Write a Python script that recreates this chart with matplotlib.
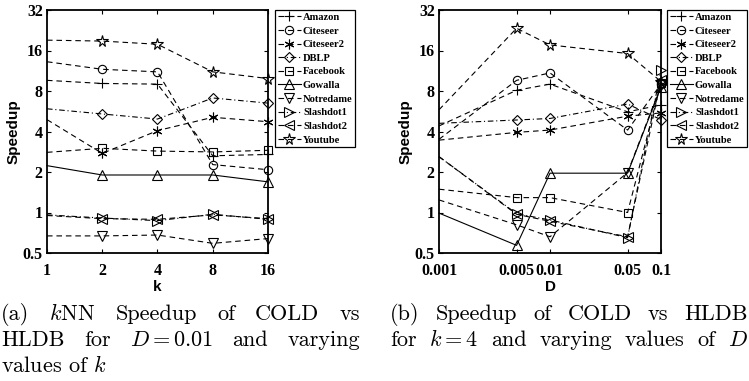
"""
Speedup of COLD vs HLDB: left panel varies k, right panel varies D
"""

import numpy as np
import matplotlib.pyplot as plt

plt.rcParams['mathtext.fontset'] = 'cm'
plt.rcParams['axes.formatter.use_mathtext'] = True

# Data
datasets = ['Amazon', 'Citeseer', 'Citeseer2', 'DBLP', 'Facebook',
            'Gowalla', 'Notredame', 'Slashdot1', 'Slashdot2', 'Youtube']

k_values = [1, 2, 4, 8, 16]
speedup_k = {
    'Amazon':    [9.6, 9.1, 9.0, 2.64, 2.7],
    'Citeseer':  [13.2, 11.6, 11.1, 2.27, 2.08],
    'Citeseer2': [4.9, 2.75, 4.06, 5.1, 4.73],
    'DBLP':      [5.9, 5.4, 4.95, 7.1, 6.5],
    'Facebook':  [2.8, 3.0, 2.86, 2.82, 2.9],
    'Gowalla':   [2.23, 1.9, 1.9, 1.9, 1.69],
    'Notredame': [0.67, 0.67, 0.68, 0.59, 0.64],
    'Slashdot1': [0.96, 0.91, 0.87, 0.97, 0.89],
    'Slashdot2': [0.95, 0.9, 0.89, 0.96, 0.9],
    'Youtube':   [19.1, 18.8, 17.8, 11.1, 9.9],
}

d_values = [0.001, 0.005, 0.01, 0.05, 0.1]
speedup_d = {
    'Amazon':    [4.4, 8.1, 9.0, 5.6, 6.3],
    'Citeseer':  [3.5, 9.6, 10.9, 4.1, 9.0],
    'Citeseer2': [3.45, 3.94, 4.1, 5.2, 5.5],
    'DBLP':      [4.6, 4.87, 5.0, 6.4, 4.9],
    'Facebook':  [1.49, 1.29, 1.29, 1.0, 9.2],
    'Gowalla':   [0.99, 0.57, 1.96, 1.96, 8.6],
    'Notredame': [1.24, 0.81, 0.66, 1.98, 8.8],
    'Slashdot1': [2.6, 0.98, 0.88, 0.65, 11.4],
    'Slashdot2': [2.6, 0.97, 0.86, 0.66, 9.6],
    'Youtube':   [5.8, 23.4, 17.6, 15.2, 9.4],
}

y_ticks = [0.5, 1, 2, 4, 8, 16, 32]
y_tick_labels = ['0.5', '1', '2', '4', '8', '16', '32']
d_tick_labels = ['0.001', '0.005', '0.01', '0.05', '0.1']

# Стиль каждой серии: маркер, тип линии, размер маркера
dash = (5, 3.5)
dashdot = (5, 2.5, 1, 2.5)
asterisk = (6, 2, 0)
styles = {
    'Amazon':    ('+', dash, 7),
    'Citeseer':  ('o', dash, 6),
    'Citeseer2': (asterisk, dash, 7),
    'DBLP':      ('D', dashdot, 5.5),
    'Facebook':  ('s', dash, 5.5),
    'Gowalla':   ('^', None, 6.5),
    'Notredame': ('v', dash, 6.5),
    'Slashdot1': ('>', dashdot, 6.5),
    'Slashdot2': ('<', dash, 6.5),
    'Youtube':   ('*', dash, 8.5),
}

tick_font = dict(family='Liberation Serif', weight='bold', size=11.5)
label_font = dict(family='Liberation Sans', weight='bold', size=11)
legend_font = dict(family='Liberation Serif', weight='bold', size=7.6)

fig = plt.figure(figsize=(7.49, 3.81), dpi=100)
ax1 = fig.add_axes([47 / 749, 128 / 381, 221 / 749, 243 / 381])
ax2 = fig.add_axes([439 / 749, 128 / 381, 222 / 749, 243 / 381])


def draw(ax, xs, table):
    for name in datasets:
        marker, dashes, ms = styles[name]
        # в первой точке маркера нет
        line, = ax.plot(xs, table[name], color='k', linewidth=0.8,
                        marker=marker, markersize=ms, markevery=[1, 2, 3, 4],
                        markerfacecolor='none', markeredgecolor='k',
                        markeredgewidth=0.8, label=name, clip_on=False)
        if dashes is None:
            line.set_linestyle('-')
        else:
            line.set_dashes(dashes)


draw(ax1, k_values, speedup_k)
draw(ax2, d_values, speedup_d)

for ax in (ax1, ax2):
    ax.set_yscale('log', base=2)
    ax.set_ylim(0.5, 32)
    ax.set_yticks(y_ticks)
    ax.set_yticklabels(y_tick_labels, fontdict=tick_font)
    ax.minorticks_off()
    ax.tick_params(direction='in', length=3, width=0.8,
                   top=True, right=True)
    ax.tick_params(axis='x', pad=7)
    ax.tick_params(axis='y', pad=3)
    for sp in ax.spines.values():
        sp.set_linewidth(1.3)
    ax.set_ylabel('Speedup', fontdict=label_font, labelpad=1.5)
    leg = ax.legend(loc='upper left', prop=legend_font,
                    handlelength=2.2, handletextpad=0.2,
                    labelspacing=0.4, borderpad=0.25,
                    borderaxespad=0, fancybox=False,
                    framealpha=1, edgecolor='k')
    leg.get_frame().set_linewidth(0.9)

ax1.legend_.set_bbox_to_anchor((275 / 749, 371 / 381), transform=fig.transFigure)
ax2.legend_.set_bbox_to_anchor((667 / 749, 371 / 381), transform=fig.transFigure)

ax1.set_xscale('log', base=2)
ax1.set_xlim(1, 16)
ax1.set_xticks(k_values)
ax1.set_xticklabels([str(k) for k in k_values], fontdict=tick_font)
ax1.minorticks_off()
ax1.set_xlabel('k', fontdict=label_font, labelpad=1)

ax2.set_xscale('log')
ax2.set_xlim(0.001, 0.1)
ax2.set_xticks(d_values)
ax2.set_xticklabels(d_tick_labels, fontdict=tick_font)
ax2.minorticks_off()
ax2.set_xlabel('D', fontdict=label_font, labelpad=1)

# Подписи под графиками, выровненные по ширине как в статье
cap = dict(family='cmr10', size=16, va='baseline')
renderer = fig.canvas.get_renderer()


def justify(words, x0, x1, y):
    texts = [fig.text(0, 1 - y / 381, w, **cap) for w in words]
    widths = [t.get_window_extent(renderer).width for t in texts]
    gap = (x1 - x0 - sum(widths)) / (len(words) - 1)
    x = x0
    for t, w in zip(texts, widths):
        t.set_x(x / 749)
        x += w + gap


justify(['(a)', '$k$NN', 'Speedup', 'of', 'COLD', 'vs'], 1, 360, 320)
justify(['HLDB', 'for', '$D = 0.01$', 'and', 'varying'], 1, 360, 346)
fig.text(1 / 749, 1 - 372 / 381, 'values of $k$', **cap)
justify(['(b)', 'Speedup', 'of', 'COLD', 'vs', 'HLDB'], 390, 748, 320)
justify(['for', '$k = 4$', 'and', 'varying', 'values', 'of', '$D$'], 390, 748, 346)

plt.savefig('out.png', dpi=100)
